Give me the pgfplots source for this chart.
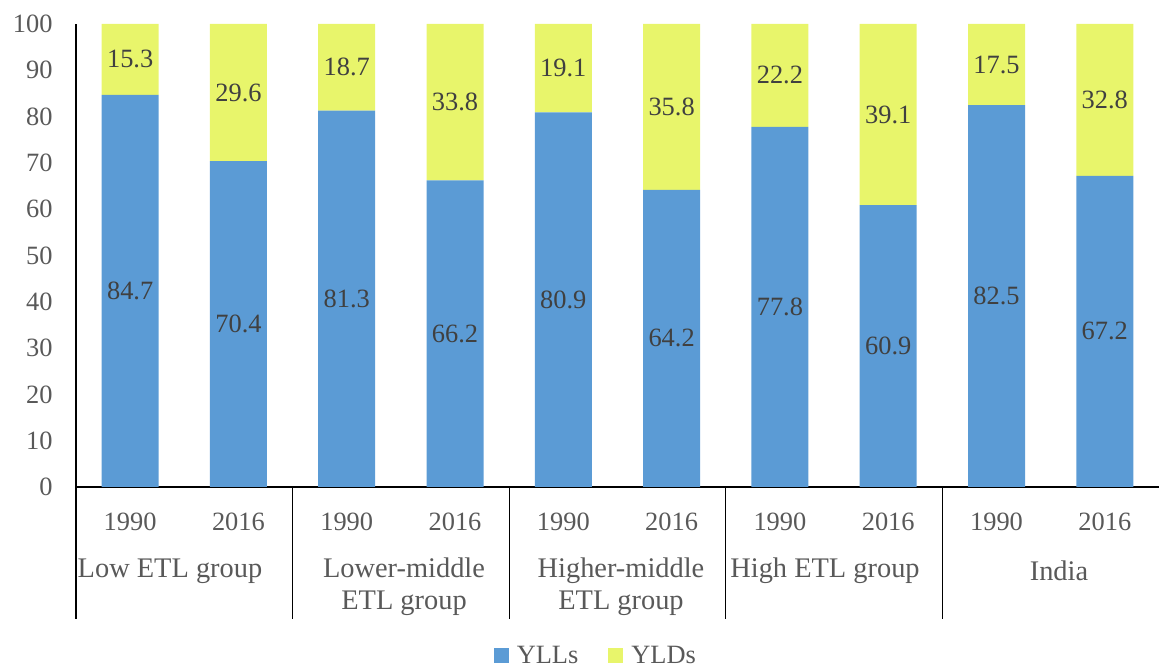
\documentclass[border=0pt]{standalone}
\usepackage{pgfplots}
\pgfplotsset{compat=1.18}
\usepackage{pgfplotstable}
\usepackage{fontspec}
\setmainfont{Liberation Serif}
\definecolor{yllc}{HTML}{5B9BD5}
\definecolor{yldc}{HTML}{E8F56B}
\definecolor{txt}{HTML}{595959}
\definecolor{lab}{HTML}{404040}

\pgfplotstableread{
x yll yld
0 84.7 15.3
1 70.4 29.6
2 81.3 18.7
3 66.2 33.8
4 80.9 19.1
5 64.2 35.8
6 77.8 22.2
7 60.9 39.1
8 82.5 17.5
9 67.2 32.8
}\data

\newcommand{\bigfont}{\fontsize{26.5}{32}\selectfont}
\newcommand{\catfont}{\fontsize{28.5}{32}\selectfont}

\begin{document}
\begin{tikzpicture}
\useasboundingbox (0,0) rectangle (1159bp,671bp);
\begin{axis}[
  at={(76bp,184bp)}, anchor=south west,
  scale only axis, width=1083bp, height=463bp,
  xmin=-0.5, xmax=9.5, ymin=0, ymax=100,
  ybar stacked, bar width=57bp,
  axis x line*=bottom, axis y line*=left,
  axis line style={black, line width=1.2bp, -},
  ytick={0,10,...,100},
  xtick={0,...,9},
  xticklabels={1990,2016,1990,2016,1990,2016,1990,2016,1990,2016},
  major tick length=0pt,
  extra x ticks={-0.5,1.5,3.5,5.5,7.5},
  extra x tick labels={},
  extra x tick style={major tick length=132bp, tick align=outside, tick style={black, line width=1.2bp}},
  /pgf/number format/assume math mode=true,
  ticklabel style={font=\bigfont, text=txt},
  xticklabel style={yshift=-22bp},
  yticklabel style={xshift=-20bp},
  legend style={at={(0.480,-0.365)}, anchor=center, draw=none, fill=none,
    legend columns=2, font=\bigfont, text=txt, inner sep=0pt,
    /tikz/every odd column/.append style={column sep=6bp},
    /tikz/every even column/.append style={column sep=28bp}},
  legend image code/.code={\fill[#1] (0bp,-7.5bp) rectangle (15bp,7.5bp);},
]
\addplot[fill=yllc, draw=none] table[x=x, y=yll] {\data};
\addlegendentry{YLLs}
\addplot[fill=yldc, draw=none] table[x=x, y=yld] {\data};
\addlegendentry{YLDs}
\end{axis}
\begin{axis}[
  at={(76bp,184bp)}, anchor=south west,
  scale only axis, width=1083bp, height=463bp,
  xmin=-0.5, xmax=9.5, ymin=0, ymax=100,
  hide axis,
  nodes near coords={\pgfmathprintnumber[fixed,fixed zerofill,precision=1,assume math mode=true]{\pgfplotspointmeta}},
  every node near coord/.append style={anchor=center, font=\bigfont, text=lab},
]
\addplot[draw=none, mark=none, point meta=explicit] table[x=x, y expr=\thisrow{yll}/2, meta=yll] {\data};
\addplot[draw=none, mark=none, point meta=explicit] table[x=x, y expr=\thisrow{yll}+\thisrow{yld}/2, meta=yld] {\data};
\end{axis}
\begin{scope}[every node/.style={font=\catfont, text=txt, align=center}]
\node at (170bp,100bp) {Low ETL group};
\node at (404bp,84bp) {Lower-middle\\ETL group};
\node at (621bp,84bp) {Higher-middle\\ETL group};
\node at (825bp,100bp) {High ETL group};
\node at (1059bp,100bp) {India};
\end{scope}
\end{tikzpicture}
\end{document}
